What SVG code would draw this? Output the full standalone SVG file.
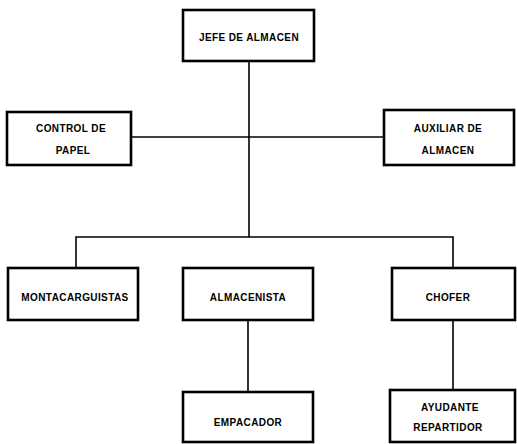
<svg xmlns="http://www.w3.org/2000/svg" width="517" height="444" viewBox="0 0 517 444">
<style>
.box{fill:#fff;stroke:#000;stroke-width:2.6}
.ln{fill:none;stroke:#000;stroke-width:1.6}
.t{font-family:"Liberation Sans",Arial,sans-serif;font-weight:bold;font-size:10px;letter-spacing:0.4px;fill:#000;text-anchor:middle;dominant-baseline:central}
</style>
<rect width="517" height="444" fill="#fff"/>
<g id="connectors">
<path class="ln" d="M249 61V237"/>
<path class="ln" d="M131 137H384"/>
<path class="ln" d="M76 268V237H453V268"/>
<path class="ln" d="M248 320V392"/>
<path class="ln" d="M453 320V390"/>
</g>
<g id="jefe"><rect class="box" x="183" y="10" width="131" height="51"/><text class="t" x="249" y="37">JEFE DE ALMACEN</text></g>
<g id="control"><rect class="box" x="7" y="112" width="124" height="53"/><text class="t" x="71" y="128">CONTROL DE</text><text class="t" x="73" y="150">PAPEL</text></g>
<g id="auxiliar"><rect class="box" x="384" y="110" width="130" height="55"/><text class="t" x="448" y="128">AUXILIAR DE</text><text class="t" x="448" y="150">ALMACEN</text></g>
<g id="montacarguistas"><rect class="box" x="8" y="268" width="130" height="52"/><text class="t" x="75" y="297">MONTACARGUISTAS</text></g>
<g id="almacenista"><rect class="box" x="183" y="268" width="130" height="52"/><text class="t" x="248" y="297">ALMACENISTA</text></g>
<g id="chofer"><rect class="box" x="392" y="268" width="123" height="52"/><text class="t" x="448" y="297">CHOFER</text></g>
<g id="empacador"><rect class="box" x="183" y="392" width="130" height="50"/><text class="t" x="248" y="422">EMPACADOR</text></g>
<g id="ayudante"><rect class="box" x="390" y="390" width="125" height="52"/><text class="t" x="450" y="407">AYUDANTE</text><text class="t" x="448" y="427">REPARTIDOR</text></g>
</svg>
